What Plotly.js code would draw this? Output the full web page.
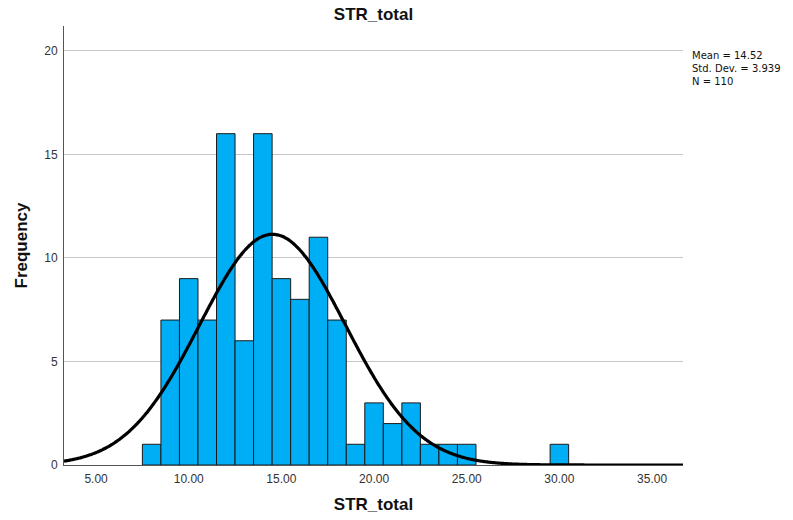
<!DOCTYPE html>
<html>
<head>
<meta charset="utf-8">
<script src="https://cdn.plot.ly/plotly-3.0.1.min.js"></script>
<style>html,body{margin:0;padding:0;background:#fff;}#chart{width:793px;height:520px;}</style>
</head>
<body>
<div id="chart"></div>
<script>
// Histogram bins (centers) and frequencies
const binCenters = [8, 9, 10, 11, 12, 13, 14, 15, 16, 17, 18, 19, 20, 21, 22, 23, 24, 25, 30];
const frequencies = [1, 7, 9, 7, 16, 6, 16, 9, 8, 11, 7, 1, 3, 2, 3, 1, 1, 1, 1];
const xTickVals = [5, 10, 15, 20, 25, 30, 35];
const xTickText = ["5.00", "10.00", "15.00", "20.00", "25.00", "30.00", "35.00"];
const yTickVals = [0, 5, 10, 15, 20];
const meanVal = 14.52;
const sdVal = 3.939;
const nVal = 110;
const binWidth = 1;

// Normal curve fitted from the stated mean / SD / N
const xMin = 3.27, xMax = 36.67;
const curveX = [], curveY = [];
for (let i = 0; i <= 400; i++) {
  const x = xMin + (xMax - xMin) * i / 400;
  const z = (x - meanVal) / sdVal;
  curveX.push(x);
  curveY.push(nVal * binWidth * Math.exp(-0.5 * z * z) / (sdVal * Math.sqrt(2 * Math.PI)));
}

const traces = [
  {
    type: 'bar',
    x: binCenters,
    y: frequencies,
    width: binWidth,
    marker: {color: '#00aef5', line: {color: '#1a1a1a', width: 1}},
    hoverinfo: 'x+y'
  },
  {
    type: 'scatter',
    mode: 'lines',
    x: curveX,
    y: curveY,
    line: {color: '#000', width: 3.2, shape: 'spline'},
    hoverinfo: 'skip'
  }
];

const layout = {
  width: 793,
  height: 520,
  margin: {l: 64, r: 110, t: 26, b: 55},
  paper_bgcolor: '#fff',
  plot_bgcolor: '#fff',
  showlegend: false,
  bargap: 0,
  title: {
    text: '<b>STR_total</b>',
    x: 0.471, xanchor: 'center',
    y: 0.973, yanchor: 'middle',
    font: {family: 'Liberation Sans Narrow, Arial Narrow, sans-serif', size: 17, color: '#111'}
  },
  xaxis: {
    range: [xMin, xMax],
    tickvals: xTickVals,
    ticktext: xTickText,
    showgrid: false,
    zeroline: false,
    showline: true,
    linecolor: '#555',
    linewidth: 1,
    ticks: '',
    ticklen: 0,
    ticklabelstandoff: 3,
    tickfont: {family: 'Liberation Sans Narrow, sans-serif', size: 12, color: '#333'},
    title: {
      text: '<b>STR_total</b>',
      standoff: 12,
      font: {family: 'Liberation Sans Narrow, sans-serif', size: 17, color: '#111'}
    }
  },
  yaxis: {
    range: [0, 21.2],
    tickvals: yTickVals,
    showgrid: true,
    gridcolor: '#c8c8c8',
    gridwidth: 1,
    zeroline: false,
    showline: true,
    linecolor: '#555',
    linewidth: 1,
    ticks: '',
    ticklabelstandoff: 3,
    tickfont: {family: 'Liberation Sans Narrow, sans-serif', size: 12, color: '#333'},
    title: {
      text: '<b>Frequency</b>',
      standoff: 12,
      font: {family: 'Liberation Sans Narrow, sans-serif', size: 17, color: '#111'}
    }
  },
  annotations: [
    {
      xref: 'paper', yref: 'paper',
      x: 1.012, y: 0.95,
      xanchor: 'left', yanchor: 'top',
      align: 'left',
      showarrow: false,
      text: 'Mean = ' + meanVal.toFixed(2) + '<br>Std. Dev. = ' + sdVal.toFixed(3) + '<br>N = ' + nVal,
      font: {family: 'DejaVu Sans, sans-serif', size: 10, color: '#111'}
    }
  ]
};

Plotly.newPlot('chart', traces, layout, {displayModeBar: false, staticPlot: true});
</script>
</body>
</html>
